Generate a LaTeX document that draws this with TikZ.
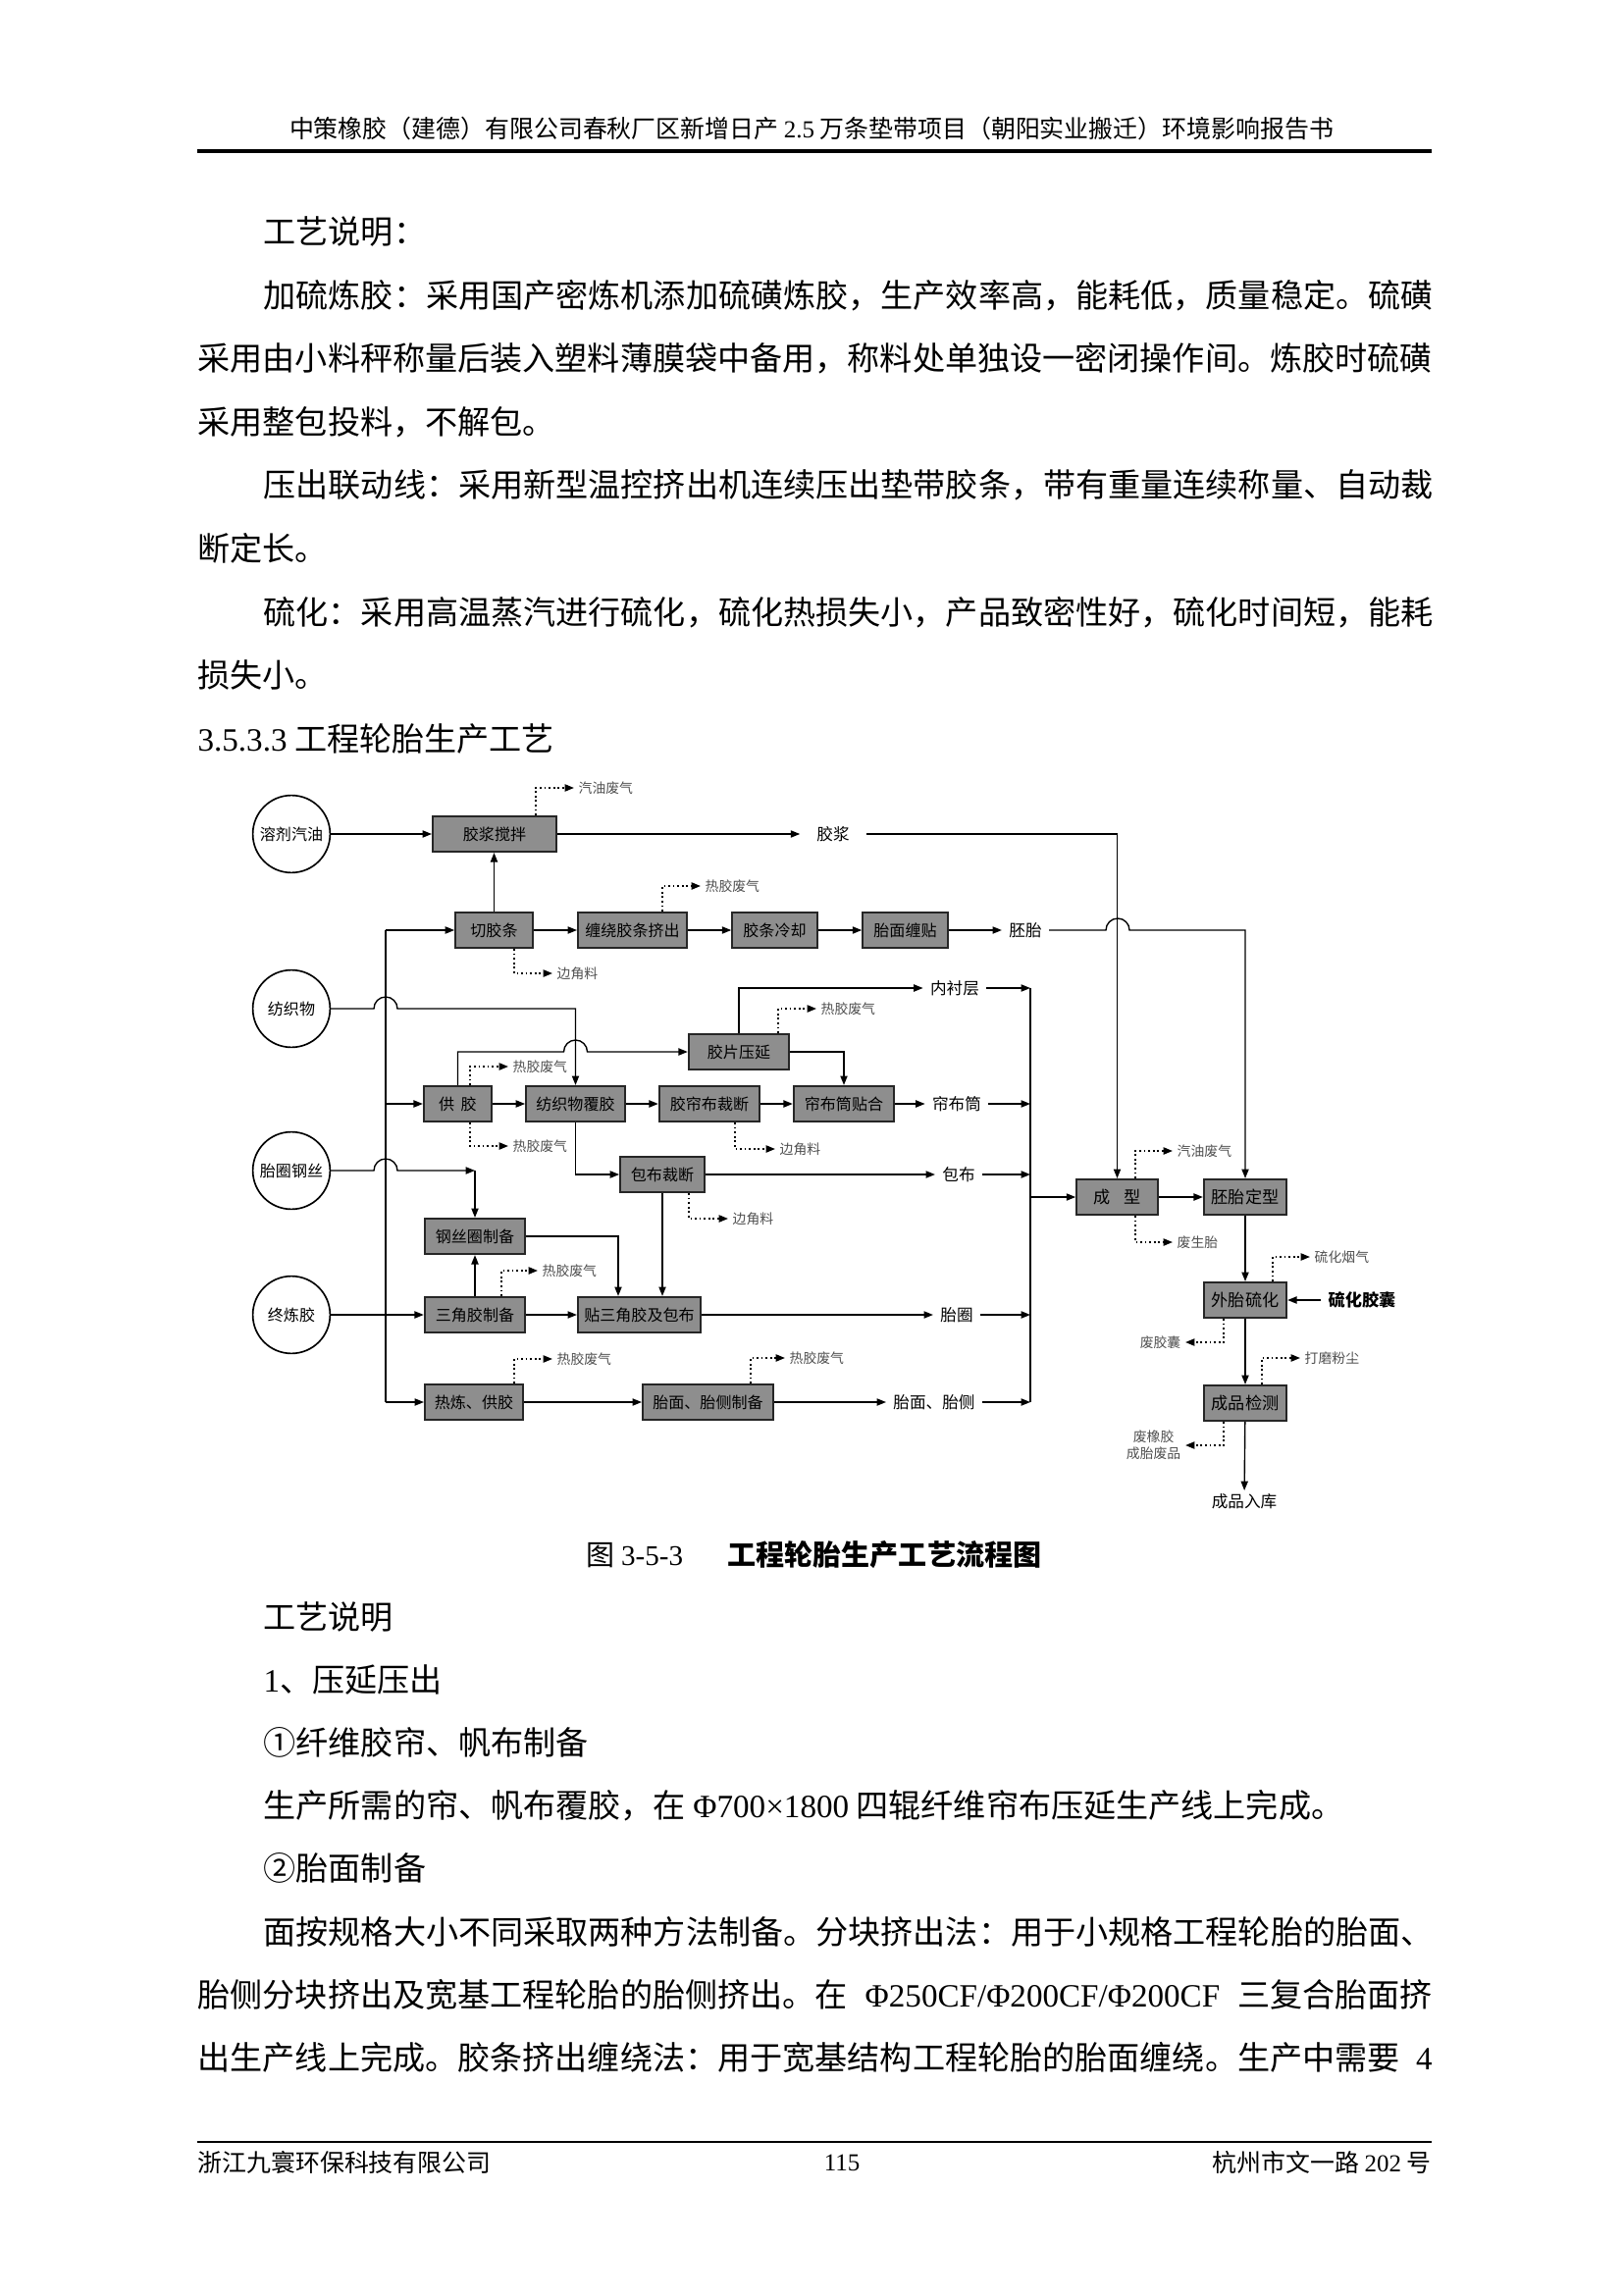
\documentclass[tikz,border=0pt]{standalone}
\usepackage{fontspec}
\setmainfont{Noto Sans CJK SC}
\newfontfamily\latfont{Liberation Serif}
\newcommand{\en}[1]{{\latfont #1}}
\usetikzlibrary{arrows.meta}
\definecolor{procgray}{HTML}{8E8E8E}
\definecolor{wastetext}{HTML}{505050}

\begin{document}
\begin{tikzpicture}[x=0.012697cm, y=-0.012697cm,
  >={Triangle[length=3.4pt,width=2.6pt]},
  body/.style={anchor=west, inner sep=0pt, font=\fontsize{11.96}{14}\selectfont},
  proc/.style={draw=black!85, fill=procgray, line width=0.7pt, minimum height=0.46cm, inner sep=0pt, font=\fontsize{5.8}{6.5}\selectfont},
  procR/.style={proc, font=\fontsize{6.2}{7}\selectfont},
  src/.style={circle, draw, line width=0.6pt, minimum size=1.0cm, inner sep=0pt, font=\fontsize{5.8}{6.5}\selectfont},
  prod/.style={inner xsep=2.5pt, inner ysep=1pt, font=\fontsize{6}{7}\selectfont},
  waste/.style={inner xsep=1.5pt, inner ysep=0pt, text=wastetext, font=\fontsize{5}{6}\selectfont},
  flow/.style={->, line width=0.5pt},
  wflow/.style={->, densely dotted, line width=0.65pt},
]
\useasboundingbox (0,0) rectangle (1654,2339);

% Header and footer
\node[inner sep=0pt, font=\fontsize{9}{10}\selectfont] (hdr) at (827,131) {中策橡胶（建德）有限公司春秋厂区新增日产 \en{2.5} 万条垫带项目（朝阳实业搬迁）环境影响报告书};
\draw[line width=1.1pt] (201,154) -- (1459,154);
\draw[line width=0.8pt] (201,2183) -- (1459,2183);
\node[anchor=west, inner sep=0pt, font=\fontsize{9}{10}\selectfont] (ftl) at (201,2204) {浙江九寰环保科技有限公司};
\node[inner sep=0pt, font=\fontsize{9}{10}\selectfont] (ftc) at (858,2204) {\en{115}};
\node[anchor=east, inner sep=0pt, font=\fontsize{9}{10}\selectfont] (ftr) at (1459,2204) {杭州市文一路 \en{202} 号};

% Text above the chart
\node[body] (t1) at (268,236) {工艺说明：};
\node[body] (t2) at (268,301) {加硫炼胶：采用国产密炼机添加硫磺炼胶，生产效率高，能耗低，质量稳定。硫磺};
\node[body] (t3) at (201,365) {采用由小料秤称量后装入塑料薄膜袋中备用，称料处单独设一密闭操作间。炼胶时硫磺};
\node[body] (t4) at (201,430) {采用整包投料，不解包。};
\node[body] (t5) at (268,494) {压出联动线：采用新型温控挤出机连续压出垫带胶条，带有重量连续称量、自动裁};
\node[body] (t6) at (201,559) {断定长。};
\node[body] (t7) at (268,624) {硫化：采用高温蒸汽进行硫化，硫化热损失小，产品致密性好，硫化时间短，能耗};
\node[body] (t8) at (201,688) {损失小。};
\node[body] (t9) at (201,753) {\en{3.5.3.3} 工程轮胎生产工艺};

% Raw materials
\node[src] (gasoline) at (297,850) {溶剂汽油};
\node[src] (textile) at (297,1028) {纺织物};
\node[src] (beadwire) at (297,1193) {胎圈钢丝};
\node[src] (finalmix) at (297,1340) {终炼胶};

% Process steps
\node[proc, minimum width=1.60cm] (cement) at (504,850) {胶浆搅拌};
\node[proc, minimum width=1.00cm] (cutstrip) at (503.5,948) {切胶条};
\node[proc, minimum width=1.41cm] (windext) at (644.5,948) {缠绕胶条挤出};
\node[proc, minimum width=1.10cm] (cool) at (789.5,948) {胶条冷却};
\node[proc, minimum width=1.10cm] (treadwind) at (922.5,948) {胎面缠贴};
\node[proc, minimum width=1.30cm] (sheetcal) at (753,1072) {胶片压延};
\node[proc, minimum width=0.88cm] (feed) at (466.5,1125) {供\hspace{0.4em}胶};
\node[proc, minimum width=1.28cm] (coat) at (586.5,1125) {纺织物覆胶};
\node[proc, minimum width=1.30cm] (plycut) at (723,1125) {胶帘布裁断};
\node[proc, minimum width=1.30cm] (drum) at (860,1125) {帘布筒贴合};
\node[proc, minimum width=1.09cm] (wrapcut) at (675,1197) {包布裁断};
\node[proc, minimum width=1.30cm] (bead) at (484,1260) {钢丝圈制备};
\node[proc, minimum width=1.30cm] (apex) at (484,1340) {三角胶制备};
\node[proc, minimum width=1.59cm] (beadasm) at (651.5,1340) {贴三角胶及包布};
\node[proc, minimum width=1.27cm] (warm) at (483,1429) {热炼、供胶};
\node[proc, minimum width=1.69cm] (treadside) at (721.5,1429) {胎面、胎侧制备};
\node[procR, minimum width=1.05cm] (build) at (1138.5,1220) {成\hspace{0.8em}型};
\node[procR, minimum width=1.07cm] (shape) at (1269,1220) {胚胎定型};
\node[procR, minimum width=1.07cm] (cure) at (1269,1325) {外胎硫化};
\node[procR, minimum width=1.07cm] (inspect) at (1269,1430) {成品检测};

% Semi-products
\node[prod, inner xsep=6pt] (slurry) at (849,850) {胶浆};
\node[prod] (green) at (1045,948) {胚胎};
\node[prod] (liner) at (973,1007) {内衬层};
\node[prod] (plydrum) at (975,1125) {帘布筒};
\node[prod] (wrap) at (977,1197) {包布};
\node[prod] (beadring) at (975,1340) {胎圈};
\node[prod] (tread) at (952,1429) {胎面、胎侧};
\node[prod, font=\fontsize{6.2}{7}\selectfont\bfseries] (bladder) at (1388,1325) {硫化胶囊};
\node[prod] (store) at (1268,1530) {成品入库};

% Emissions and scrap
\node[waste, anchor=west] (e1) at (585,803) {汽油废气};
\node[waste, anchor=west] (e2) at (714,903) {热胶废气};
\node[waste, anchor=west] (e3) at (563,992) {边角料};
\node[waste, anchor=west] (e4) at (832,1028) {热胶废气};
\node[waste, anchor=west] (e5) at (518,1087) {热胶废气};
\node[waste, anchor=west] (e6) at (518,1168) {热胶废气};
\node[waste, anchor=west] (e7) at (790,1171) {边角料};
\node[waste, anchor=west] (e8) at (742,1242) {边角料};
\node[waste, anchor=west] (e9) at (548,1295) {热胶废气};
\node[waste, anchor=west] (e10) at (563,1385) {热胶废气};
\node[waste, anchor=west] (e11) at (800,1384) {热胶废气};
\node[waste, anchor=west] (e12) at (1195,1173) {汽油废气};
\node[waste, anchor=west] (e13) at (1195,1266) {废生胎};
\node[waste, anchor=west] (e14) at (1335,1281) {硫化烟气};
\node[waste, anchor=east] (e15) at (1208,1368) {废胶囊};
\node[waste, anchor=west] (e16) at (1325,1384) {打磨粉尘};
\node[waste, anchor=east, align=center] (e17) at (1208,1473) {废橡胶\\成胎废品};

% Left feed bus
\coordinate (busT) at (393,948);
\coordinate (busB) at (393,1429);
\draw[line width=0.5pt] (busT) -- (busB);
\draw[flow] (busT) -- (cutstrip.west);
\draw[flow] (busT |- feed.west) -- (feed.west);
\draw[flow] (finalmix.east) -- (apex.west);
\draw[flow] (busB) -- (warm.west);

% Hop points
\coordinate (hopA) at (381,1028);
\coordinate (hopB) at (381,1193);
\coordinate (hopC) at (574.5,1072);
\coordinate (hopD) at (1127,948);
\coordinate (bwc) at (484,1193);

% Top rows
\draw[flow] (gasoline.east) -- (cement.west);
\draw[flow] (cutstrip.north) -- (cutstrip.north |- cement.south);
\draw[flow] (cement.east) -- (slurry.west);
\draw[flow] (slurry.east) -| (build.north);
\draw[flow] (cutstrip) -- (windext);
\draw[flow] (windext) -- (cool);
\draw[flow] (cool) -- (treadwind);
\draw[flow] (treadwind) -- (green);
\draw[flow] (green.east) -- (hopD) arc[start angle=180, end angle=360, radius=12] -| (shape.north);

% Textile branch
\draw[flow] (textile.east) -- (hopA) arc[start angle=180, end angle=360, radius=12] -| (coat.north);
\draw[flow] (feed.north) |- (hopC) arc[start angle=180, end angle=360, radius=12] -- (sheetcal.west);
\draw[flow] (sheetcal.north) |- (liner.west);
\draw[flow] (sheetcal.east) -| (drum.north);
\draw[flow] (feed) -- (coat);
\draw[flow] (coat) -- (plycut);
\draw[flow] (plycut) -- (drum);
\draw[flow] (drum) -- (plydrum);
\draw[flow] (coat.south) |- (wrapcut.west);
\draw[flow] (wrapcut) -- (wrap);
\draw[flow] (wrapcut.south) -- (wrapcut.south |- beadasm.north);

% Bead branch
\draw[flow] (beadwire.east) -- (hopB) arc[start angle=180, end angle=360, radius=12] -- (bwc);
\draw[flow] (bwc) -- (bead.north);
\draw[flow] (apex.north) -- (bead.south);
\draw[flow] (bead.east) -| ([xshift=-0.273cm]beadasm.north);
\draw[flow] (apex) -- (beadasm);
\draw[flow] (beadasm) -- (beadring);
\draw[flow] (warm) -- (treadside);
\draw[flow] (treadside) -- (tread);

% Right collecting bus
\coordinate (bus2T) at (1050,1007);
\coordinate (bus2B) at (1050,1429);
\draw[line width=0.5pt] (bus2T) -- (bus2B);
\draw[flow] (liner.east) -- (bus2T);
\draw[flow] (plydrum.east) -- (plydrum.east -| bus2T);
\draw[flow] (wrap.east) -- (wrap.east -| bus2T);
\draw[flow] (beadring.east) -- (beadring.east -| bus2T);
\draw[flow] (tread.east) -- (bus2B);
\draw[flow] (bus2T |- build.west) -- (build.west);

% Final steps
\draw[flow] (build) -- (shape);
\draw[flow] (shape) -- (cure);
\draw[flow] (cure) -- (inspect);
\draw[flow] (inspect) -- (store);
\draw[flow] (bladder.west) -- (cure.east);

% Dotted outputs
\draw[wflow] (cement.north -| 546,0) |- (e1.west);
\draw[wflow] (windext.north -| 675,0) |- (e2.west);
\draw[wflow] (cutstrip.south -| 524,0) |- (e3.west);
\draw[wflow] (sheetcal.north -| 793,0) |- (e4.west);
\draw[wflow] (feed.north -| 479,0) |- (e5.west);
\draw[wflow] (feed.south -| 479,0) |- (e6.west);
\draw[wflow] (plycut.south -| 749,0) |- (e7.west);
\draw[wflow] (wrapcut.south -| 702,0) |- (e8.west);
\draw[wflow] (apex.north -| 511,0) |- (e9.west);
\draw[wflow] (warm.north -| 524,0) |- (e10.west);
\draw[wflow] (treadside.north -| 765,0) |- (e11.west);
\draw[wflow] (build.north -| 1157,0) |- (e12.west);
\draw[wflow] (build.south -| 1157,0) |- (e13.west);
\draw[wflow] (cure.north -| 1297,0) |- (e14.west);
\draw[wflow] (cure.south -| 1247,0) |- (e15.east);
\draw[wflow] (inspect.north -| 1286,0) |- (e16.west);
\draw[wflow] (inspect.south -| 1247,0) |- (e17.east);

% Caption
\node[anchor=west, inner sep=0pt, font=\fontsize{10.5}{12}\selectfont] (capn) at (597,1585) {图 \en{3-5-3}};
\node[anchor=west, inner sep=0pt, font=\fontsize{10.5}{12}\selectfont\bfseries] (capt) at (741,1585) {工程轮胎生产工艺流程图};

% Text below the chart
\node[body] (b1) at (268,1648) {工艺说明};
\node[body] (b2) at (268,1712) {\en{1}、压延压出};
\node[body] (b3) at (268,1776) {①纤维胶帘、帆布制备};
\node[body] (b4) at (268,1840) {生产所需的帘、帆布覆胶，在 \en{Φ700×1800} 四辊纤维帘布压延生产线上完成。};
\node[body] (b5) at (268,1904) {②胎面制备};
\node[body] (b6) at (268,1969) {面按规格大小不同采取两种方法制备。分块挤出法：用于小规格工程轮胎的胎面、};
\node[body] (b7) at (201,2033) {\makebox[15.973cm][s]{胎侧分块挤出及宽基工程轮胎的胎侧挤出。在 \en{Φ250CF/Φ200CF/Φ200CF} 三复合胎面挤}};
\node[body] (b8) at (201,2097) {\makebox[15.973cm][s]{出生产线上完成。胶条挤出缠绕法：用于宽基结构工程轮胎的胎面缠绕。生产中需要 \en{4}}};
\end{tikzpicture}
\end{document}
